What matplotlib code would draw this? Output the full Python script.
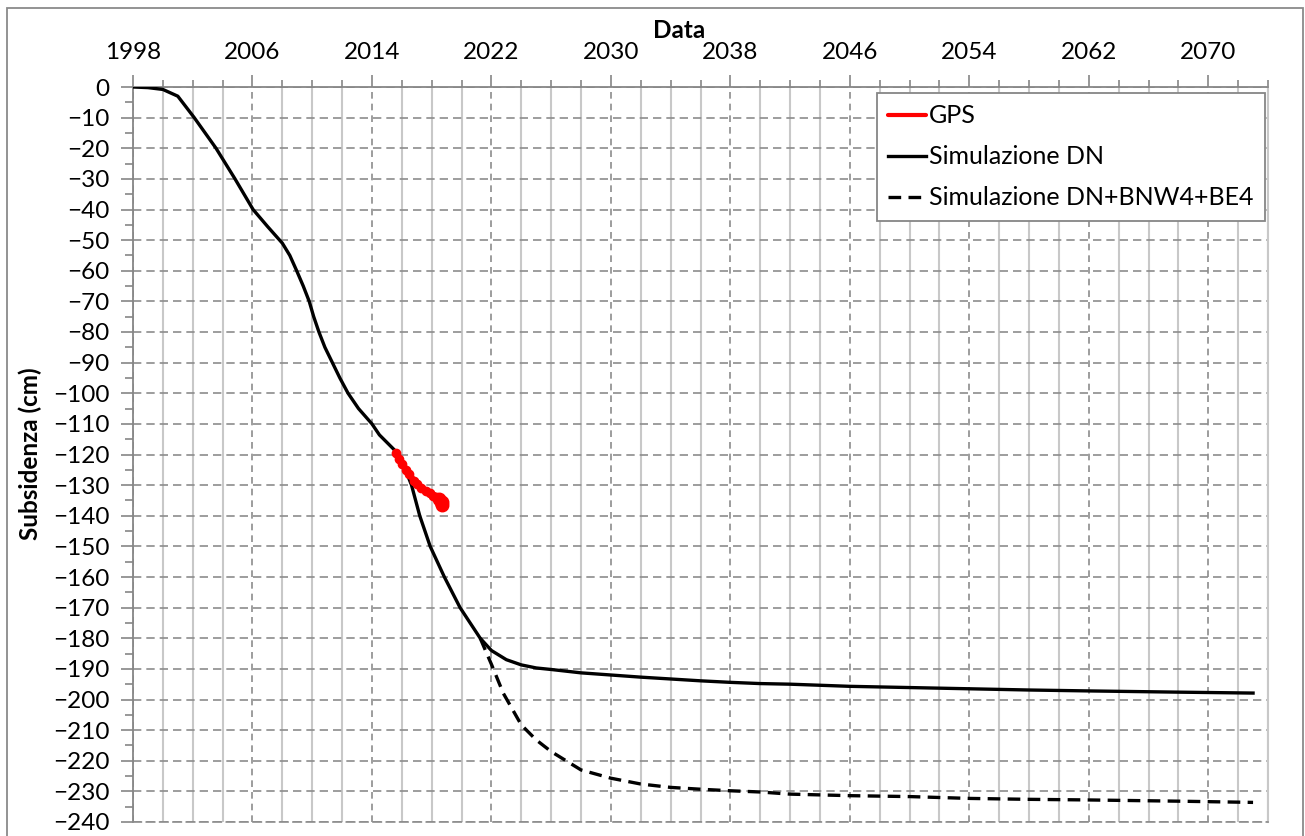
import numpy as np
import matplotlib
matplotlib.use('Agg')
import matplotlib.pyplot as plt
from matplotlib.patches import Rectangle

plt.rcParams['font.family'] = ['Lato', 'DejaVu Sans']

# simulazione DN (anno, subsidenza cm)
anni_dn = [1998, 1999, 2000, 2001, 2002.1, 2003.56, 2004.83, 2006.04, 2007,
           2008, 2008.5, 2008.96, 2009.4, 2009.8, 2010.1, 2010.45, 2010.85,
           2011.35, 2011.85, 2012.4, 2013.1, 2014, 2014.5, 2015.4, 2015.8,
           2016.2, 2016.65, 2017.2, 2017.9, 2018.85, 2019.9, 2021.25, 2022,
           2023, 2024, 2025, 2026, 2028, 2030, 2032, 2034, 2036, 2038, 2040,
           2042, 2046, 2050, 2054, 2058, 2062, 2068, 2073]
sub_dn = [0, -0.2, -0.8, -3, -10, -20, -30, -40, -45.5,
          -51, -55, -60, -65, -70, -75, -80, -85,
          -90, -95, -100, -105, -110, -113.6, -118, -120,
          -124.5, -130, -140, -150, -160, -170, -180, -184,
          -187, -188.7, -189.7, -190.2, -191.3, -192, -192.7, -193.3, -193.9,
          -194.4, -194.8, -195, -195.7, -196.1, -196.5, -196.9, -197.2,
          -197.6, -197.9]

# simulazione DN+BNW4+BE4
anni_bnw = [2021.25, 2022, 2022.8, 2024, 2025, 2026, 2028, 2030, 2032, 2034,
            2036, 2038, 2040, 2042, 2046, 2050, 2054, 2058, 2062, 2068, 2073]
sub_bnw = [-180, -188.5, -198, -208.3, -213.2, -217, -223, -225.7, -227.6,
           -228.7, -229.3, -229.8, -230.2, -230.9, -231.4, -231.7, -232.3,
           -232.6, -232.8, -233.2, -233.6]

# misure GPS
anni_gps = [2015.6, 2015.8, 2016.0, 2016.3, 2016.5, 2016.8, 2017.0, 2017.3,
            2017.6, 2017.9, 2018.1, 2018.3, 2018.5, 2018.6, 2018.7, 2018.7]
sub_gps = [-119.5, -121.5, -123, -125, -126.5, -128.5, -129.5, -131, -132,
           -132.5, -133.5, -134, -134.5, -135.5, -136.5, -135.5]

W, H = 1305, 836
fig = plt.figure(figsize=(W / 100, H / 100), dpi=100)
ax = fig.add_axes([133 / W, 1 - 822 / H, (1268 - 133) / W, (822 - 87) / H])

ax.plot(anni_gps, sub_gps, color='red', lw=4.5, solid_capstyle='round',
        solid_joinstyle='round', label='GPS', zorder=5)
ax.plot(anni_gps, sub_gps, color='red', ls='none', marker='o', ms=6, zorder=5)
ax.plot(anni_gps[-4:], sub_gps[-4:], color='red', ls='none', marker='o',
        ms=9, zorder=5)
ax.plot(anni_dn, sub_dn, color='black', lw=2.4, solid_joinstyle='round',
        label='Simulazione DN', zorder=4)
ax.plot(anni_bnw, sub_bnw, color='black', lw=2.4, ls=(0, (3.8, 2.2)),
        label='Simulazione DN+BNW4+BE4', zorder=4)

ax.set_xlim(1998, 2074)
ax.set_ylim(-240, 0)
ax.set_xticks(np.arange(1998, 2071, 8))
ax.set_xticks(np.arange(1998, 2075, 2), minor=True)
ax.set_yticks(np.arange(-240, 1, 10))
ax.set_yticks(np.arange(-235, 0, 10), minor=True)
ax.xaxis.tick_top()

grigio = '#868686'
ax.grid(which='major', axis='y', ls=(0, (5, 3)), color='#8c8c8c', lw=1.2)
ax.grid(which='major', axis='x', ls=(0, (4, 3)), color='#8c8c8c', lw=1.2)
ax.grid(which='minor', axis='x', ls='-', color='#c8c8c8', lw=1.5)
ax.set_axisbelow(True)

ax.tick_params(which='major', length=9, width=1.2, color=grigio,
               labelsize=17.5, pad=8)
ax.tick_params(which='minor', length=5, width=1.2, color=grigio)
ax.tick_params(axis='y', which='minor', length=6)

for s in ['left', 'top']:
    ax.spines[s].set_color(grigio)
    ax.spines[s].set_linewidth(1.3)
ax.spines['right'].set_color('#c8c8c8')
ax.spines['right'].set_linewidth(1.5)
ax.spines['bottom'].set_color('#8c8c8c')
ax.spines['bottom'].set_linewidth(1.2)
ax.spines['bottom'].set_linestyle((0, (5, 3)))

fig.text(679 / W, 1 - 31 / H, 'Data', fontsize=17.5, fontweight='bold',
         ha='center', va='center')
fig.text(30 / W, 1 - 454 / H, 'Subsidenza (cm)', fontsize=17.5,
         fontweight='bold', rotation=90, ha='center', va='center')

leg = ax.legend(loc='upper right', bbox_to_anchor=(1265 / W, 1 - 93 / H),
                bbox_transform=fig.transFigure, borderaxespad=0,
                fontsize=18, fancybox=False, framealpha=1, edgecolor=grigio,
                handlelength=1.5, handletextpad=0.15, labelspacing=0.72,
                borderpad=0.45)
leg.get_frame().set_linewidth(1.3)
leg.get_lines()[0].set_linewidth(3)

# cornice esterna del grafico
fig.patches.append(Rectangle((7 / W, -0.1), (1303 - 7) / W, 1.1 - 8 / H,
                             transform=fig.transFigure, fill=False,
                             edgecolor='#8a8a8a', lw=1.3))

fig.savefig('out.png', dpi=100)
